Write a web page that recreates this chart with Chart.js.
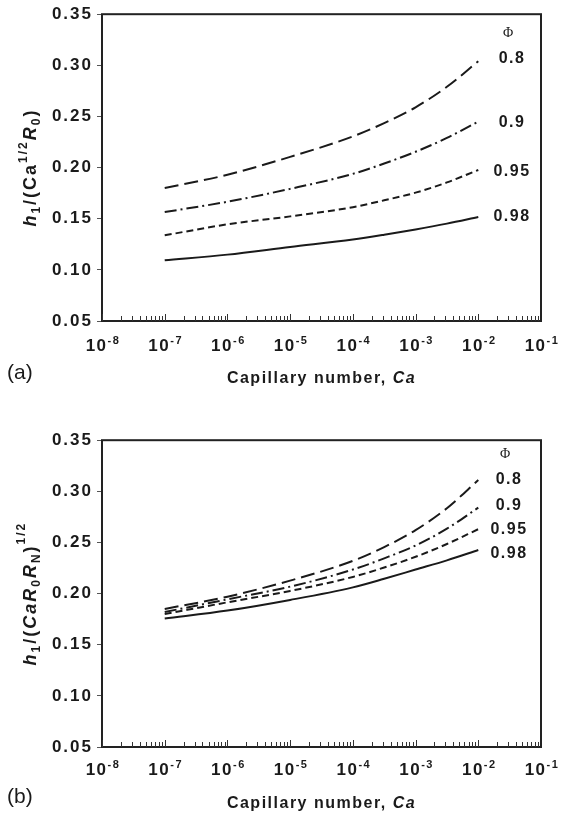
<!DOCTYPE html>
<html>
<head>
<meta charset="utf-8">
<script src="https://cdn.jsdelivr.net/npm/chart.js@4.4.1/dist/chart.umd.min.js"></script>
<style>
body{margin:0;background:#fff;width:565px;height:816px;overflow:hidden;position:relative}
.panel{position:absolute;left:0;width:565px}
</style>
</head>
<body>
<div class="panel" style="top:0;height:410px"><canvas id="chartA" width="565" height="410"></canvas></div>
<div class="panel" style="top:426px;height:390px"><canvas id="chartB" width="565" height="390"></canvas></div>
<script>
// capillary number values where the curves were read
const caValues = [1e-7, 1e-6, 1e-5, 1e-4, 3.16e-4, 1e-3, 3.16e-3, 1e-2];
const phiLabels = ['0.8', '0.9', '0.95', '0.98'];
const xDecades = [-8, -7, -6, -5, -4, -3, -2, -1];

// (a) h1/(Ca^1/2 R0)
const aPhi080 = [0.180, 0.193, 0.2105, 0.2305, 0.2435, 0.259, 0.279, 0.304];
const aPhi090 = [0.1565, 0.1666, 0.1792, 0.1939, 0.2040, 0.2155, 0.2290, 0.245];
const aPhi095 = [0.1338, 0.1445, 0.1523, 0.1613, 0.1680, 0.1755, 0.1855, 0.1977];
const aPhi098 = [0.1094, 0.1149, 0.1224, 0.1296, 0.1343, 0.1395, 0.1452, 0.1516];

// (b) h1/(Ca R0 RN)^1/2
const bPhi080 = [0.185, 0.197, 0.2127, 0.232, 0.2455, 0.262, 0.2835, 0.311];
const bPhi090 = [0.182, 0.1944, 0.2068, 0.2235, 0.2345, 0.247, 0.2635, 0.284];
const bPhi095 = [0.180, 0.1915, 0.2026, 0.2163, 0.2255, 0.236, 0.2485, 0.263];
const bPhi098 = [0.1756, 0.1834, 0.1938, 0.2061, 0.2145, 0.2235, 0.2325, 0.2426];

const FONT = '"Liberation Sans", Arial, sans-serif';
const INK = '#1a1a1a';
const dashes = [[14, 6], [12, 4, 2, 4], [7, 4], []];

function pts(ys) {
  return caValues.map((x, i) => ({x: x, y: ys[i]}));
}

function makeSets(series) {
  return series.map((ys, i) => ({
    label: phiLabels[i],
    data: pts(ys),
    borderColor: INK,
    borderWidth: 2,
    borderDash: dashes[i],
    pointRadius: 0,
    fill: false,
    cubicInterpolationMode: 'monotone'
  }));
}

// draw a run of text pieces (sub/superscripts) starting at x
function richWidth(ctx, parts) {
  let w = 0;
  parts.forEach(p => { ctx.font = p.f; w += ctx.measureText(p.t).width; });
  return w;
}
function drawRich(ctx, parts, x, y) {
  parts.forEach(p => {
    ctx.font = p.f;
    ctx.fillText(p.t, x, y + (p.dy || 0));
    x += ctx.measureText(p.t).width;
  });
}

const B = 'bold 18px ' + FONT, BI = 'italic bold 18px ' + FONT, S = 'bold 12px ' + FONT;

const figPlugin = {
  id: 'fig',
  beforeLayout(chart) { chart.ctx.letterSpacing = '2px'; },
  beforeDraw(chart) {
    const ctx = chart.ctx;
    ctx.save();
    ctx.fillStyle = '#fff';
    ctx.fillRect(0, 0, chart.width, chart.height);
    ctx.restore();
    ctx.letterSpacing = '2px';
  },
  afterDraw(chart, args, o) {
    const ctx = chart.ctx;
    const area = chart.chartArea;
    const xs = chart.scales.x;
    ctx.save();
    // frame
    ctx.strokeStyle = '#222';
    ctx.lineWidth = 2;
    ctx.strokeRect(area.left, area.top, area.right - area.left, area.bottom - area.top);
    // inward log ticks on the bottom axis
    ctx.lineWidth = 1;
    ctx.strokeStyle = '#333';
    xDecades.forEach(n => {
      if (n === -1) return;
      for (let k = 1; k <= 9; k++) {
        const px = Math.round(xs.getPixelForValue(k * Math.pow(10, n))) + 0.5;
        const len = k === 1 ? 7 : 5;
        ctx.beginPath();
        ctx.moveTo(px, area.bottom);
        ctx.lineTo(px, area.bottom - len);
        ctx.stroke();
      }
    });
    // x tick labels 10^n
    ctx.fillStyle = INK;
    ctx.textAlign = 'left';
    ctx.textBaseline = 'alphabetic';
    ctx.letterSpacing = '1.5px';
    xDecades.forEach(n => {
      const px = xs.getPixelForValue(Math.pow(10, n));
      const parts = [{t: '10', f: 'bold 17px ' + FONT}, {t: String(n), f: 'bold 11px ' + FONT, dy: -7}];
      const w = richWidth(ctx, parts);
      drawRich(ctx, parts, px - w / 2 + 1, area.bottom + o.tickDy);
    });
    // x title
    const tParts = [{t: 'Capillary number, ', f: 'bold 16px ' + FONT}, {t: 'Ca', f: 'italic bold 16px ' + FONT}];
    const tw = richWidth(ctx, tParts);
    drawRich(ctx, tParts, (area.left + area.right) / 2 - tw / 2, area.bottom + o.titleDy);
    // panel letter
    ctx.letterSpacing = '0px';
    ctx.font = '21px ' + FONT;
    ctx.fillText(o.panel, 7, area.bottom + o.panelDy);
    // y title, rotated
    ctx.letterSpacing = '2px';
    const yw = richWidth(ctx, o.yTitle);
    ctx.save();
    ctx.translate(36, (area.top + area.bottom) / 2);
    ctx.rotate(-Math.PI / 2);
    drawRich(ctx, o.yTitle, -yw / 2, 0);
    ctx.restore();
    // phi and curve labels
    ctx.textAlign = 'center';
    ctx.letterSpacing = '0px';
    ctx.font = '14px "Liberation Serif", serif';
    ctx.fillText('\u03A6', o.labelX - 3, area.top + o.phiDy);
    ctx.letterSpacing = '1.5px';
    ctx.font = 'bold 16px ' + FONT;
    phiLabels.forEach((t, i) => ctx.fillText(t, o.labelX + 1, area.top + o.labelDy[i]));
    ctx.restore();
  }
};

function makeChart(id, series, xHeight, opts) {
  return new Chart(document.getElementById(id), {
    type: 'line',
    data: {datasets: makeSets(series)},
    plugins: [figPlugin],
    options: {
      responsive: false,
      animation: false,
      devicePixelRatio: 1,
      layout: {padding: {top: 13, right: 24, left: 0, bottom: 0}},
      plugins: {legend: {display: false}, tooltip: {enabled: false}, fig: opts},
      scales: {
        x: {
          type: 'logarithmic',
          min: 1e-8,
          max: 1e-1,
          grid: {display: false},
          border: {display: false},
          ticks: {display: false},
          afterFit(s) { s.height = xHeight; }
        },
        y: {
          type: 'linear',
          min: 0.05,
          max: 0.35,
          grid: {drawOnChartArea: false, tickLength: 5, color: '#555'},
          border: {display: false},
          ticks: {
            stepSize: 0.05,
            padding: 4,
            color: INK,
            font: {family: FONT, size: 17, weight: 'bold'},
            callback: v => v.toFixed(2)
          },
          afterFit(s) { s.width = 102; }
        }
      }
    }
  });
}

makeChart('chartA', [aPhi080, aPhi090, aPhi095, aPhi098], 89, {
  panel: '(a)', tickDy: 30, titleDy: 62, panelDy: 58,
  labelX: 511, phiDy: 23, labelDy: [49, 113, 162, 207],
  yTitle: [
    {t: 'h', f: BI}, {t: '1', f: S, dy: 4}, {t: '/(Ca', f: B},
    {t: '1/2', f: S, dy: -9}, {t: 'R', f: BI}, {t: '0', f: S, dy: 4}, {t: ')', f: B}
  ]
});

makeChart('chartB', [bPhi080, bPhi090, bPhi095, bPhi098], 69, {
  panel: '(b)', tickDy: 28, titleDy: 61, panelDy: 56,
  labelX: 508, phiDy: 18, labelDy: [44, 70, 94, 118],
  yTitle: [
    {t: 'h', f: BI}, {t: '1', f: S, dy: 4}, {t: '/(', f: B}, {t: 'CaR', f: BI},
    {t: '0', f: S, dy: 4}, {t: 'R', f: BI}, {t: 'N', f: S, dy: 4}, {t: ')', f: B},
    {t: '1/2', f: S, dy: -11}
  ]
});
</script>
</body>
</html>
